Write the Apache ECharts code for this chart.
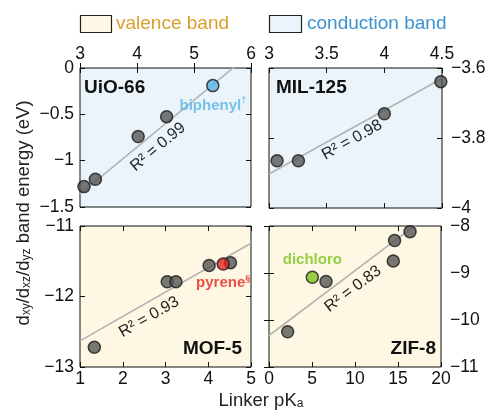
<!DOCTYPE html>
<html><head><meta charset="utf-8">
<script src="https://cdn.jsdelivr.net/npm/echarts@6/dist/echarts.min.js"></script>
<style>html,body{margin:0;padding:0;background:#fff}#c{width:490px;height:411px}</style>
</head><body><div id="c"></div>
<script>
// ---- data ----
const panelNames = ['UiO-66', 'MIL-125', 'MOF-5', 'ZIF-8'];
const r2Labels = ['R² = 0.99', 'R² = 0.98', 'R² = 0.93', 'R² = 0.83'];
// UiO-66 (conduction band)
const uioPKa = [3.07, 3.27, 4.02, 4.52];
const uioE = [-1.28, -1.20, -0.74, -0.525];
const uioSpecial = [[5.33, -0.19]]; // biphenyl
const uioFit = [[3.0, -1.36], [6.0, 0.16]];
// MIL-125 (conduction band)
const milPKa = [3.07, 3.255, 4.0, 4.49];
const milE = [-3.865, -3.865, -3.731, -3.639];
const milFit = [[3.0, -3.903], [4.5, -3.630]];
// MOF-5 (valence band)
const mofPKa = [1.335, 3.04, 3.245, 4.02, 4.52];
const mofE = [-12.72, -11.79, -11.79, -11.56, -11.52];
const mofSpecial = [[4.35, -11.54]]; // pyrene
const mofFit = [[1.0, -12.63], [5.0, -11.245]];
// ZIF-8 (valence band)
const zifPKa = [2.17, 6.63, 14.45, 14.6, 16.4];
const zifE = [-10.25, -9.18, -8.745, -8.31, -8.12];
const zifSpecial = [[5.04, -9.09]]; // dichloro
const zifFit = [[0.0, -10.33], [20.0, -7.57]];
// axis ranges / ticks
const xRanges = [[3, 6, 1], [3, 4.5, 0.5], [1, 5, 1], [0, 20, 5]];
const yRanges = [[-1.5, 0, 0.5], [-4, -3.6, 0.2], [-13, -11, 1], [-11, -8, 1]];

const FONT = 'Arial, "Liberation Sans", sans-serif';
const zip = (a, b) => a.map((v, i) => [v, b[i]]);
const fmt = v => String(Math.round(v * 1000) / 1000).replace('-', '\u2212');

const grids = [
  {left: 80, top: 68, width: 171, height: 139, bg: '#EAF4FA'},
  {left: 269, top: 68, width: 173, height: 140, bg: '#EAF4FA'},
  {left: 80, top: 226, width: 171, height: 141, bg: '#FEF7E3'},
  {left: 269, top: 226, width: 172, height: 141, bg: '#FEF7E3'}
];
const xPos = ['top', 'top', 'bottom', 'bottom'];
const yPos = ['left', 'right', 'left', 'right'];
const opp = {top: 'bottom', bottom: 'top', left: 'right', right: 'left'};
const TICKFS = 17.5;

const xAxis = [], yAxis = [];
grids.forEach((g, i) => {
  const [x0, x1, xi] = xRanges[i], [y0, y1, yi] = yRanges[i];
  const tick = {show: true, inside: true, length: 5, lineStyle: {color: '#111', width: 1}};
  const base = {type: 'value', gridIndex: i, splitLine: {show: false}, axisLine: {show: false}, axisTick: tick};
  xAxis.push(Object.assign({}, base, {min: x0, max: x1, interval: xi, position: xPos[i],
    axisLabel: {show: true, color: '#111', fontSize: TICKFS, fontFamily: FONT, margin: xPos[i] === 'top' ? 5 : 3, formatter: fmt, showMinLabel: true, showMaxLabel: true}}));
  xAxis.push(Object.assign({}, base, {min: x0, max: x1, interval: xi, position: opp[xPos[i]], axisLabel: {show: false}}));
  yAxis.push(Object.assign({}, base, {min: y0, max: y1, interval: yi, position: yPos[i],
    axisLabel: {show: true, color: '#111', fontSize: TICKFS, fontFamily: FONT, margin: yPos[i] === 'left' ? 6 : 9, formatter: fmt, showMinLabel: true, showMaxLabel: true}}));
  yAxis.push(Object.assign({}, base, {min: y0, max: y1, interval: yi, position: opp[yPos[i]], axisLabel: {show: false}}));
});

const ptStyle = {color: '#555555', borderColor: '#1a1a1a', borderWidth: 1.5};
function fitSeries(i, data) {
  return {type: 'line', xAxisIndex: 2 * i, yAxisIndex: 2 * i, data: data, symbol: 'none', silent: true,
    lineStyle: {color: '#b3b3b3', width: 1.6}, clip: true, z: 2};
}
function ptSeries(i, data) {
  return {type: 'scatter', xAxisIndex: 2 * i, yAxisIndex: 2 * i, data: data, symbolSize: 12, itemStyle: ptStyle, z: 4};
}
function specialSeries(i, data, color, text, sup, pos, dist) {
  return {type: 'scatter', xAxisIndex: 2 * i, yAxisIndex: 2 * i, data: data, symbolSize: 12,
    itemStyle: {color: color, borderColor: '#1a1a1a', borderWidth: 1.5}, z: 5,
    label: {show: true, position: pos, distance: dist, formatter: '{m|' + text + '}' + (sup ? '{s|' + sup + '}' : ''),
      rich: {m: {color: color, fontWeight: 'bold', fontSize: 15, fontFamily: FONT, lineHeight: 18, verticalAlign: 'bottom'},
             s: {color: color, fontWeight: 'bold', fontSize: 9, fontFamily: FONT, lineHeight: 18, verticalAlign: 'bottom', padding: [0, 0, 8, 0]}}}};
}

const series = [
  fitSeries(0, uioFit), ptSeries(0, zip(uioPKa, uioE)), specialSeries(0, uioSpecial, '#5AB4E6', 'biphenyl', '\u2020', 'bottom', 3),
  fitSeries(1, milFit), ptSeries(1, zip(milPKa, milE)),
  fitSeries(2, mofFit), ptSeries(2, zip(mofPKa, mofE)), specialSeries(2, mofSpecial, '#E3241B', 'pyrene', '\u00a7', 'bottom', 2),
  fitSeries(3, zifFit), ptSeries(3, zip(zifPKa, zifE)), specialSeries(3, zifSpecial, '#7CC31E', 'dichloro', '', 'top', 3)
];

const graphic = [];
grids.forEach(g => graphic.push({type: 'rect', z: -1, shape: {x: g.left, y: g.top, width: g.width, height: g.height},
  style: {fill: g.bg, stroke: '#111', lineWidth: 1}}));
// legend
graphic.push({type: 'rect', shape: {x: 80.5, y: 15.5, width: 31, height: 17}, style: {fill: '#FEF7E3', stroke: '#222', lineWidth: 1.2}});
graphic.push({type: 'text', x: 116, y: 24, style: {text: 'valence band', fill: '#D99E2B', fontSize: 19, fontFamily: FONT, verticalAlign: 'middle'}});
graphic.push({type: 'rect', shape: {x: 269.5, y: 15.5, width: 32, height: 17}, style: {fill: '#EAF4FA', stroke: '#222', lineWidth: 1.2}});
graphic.push({type: 'text', x: 307, y: 24, style: {text: 'conduction band', fill: '#3D93D0', fontSize: 19, fontFamily: FONT, verticalAlign: 'middle'}});
// panel names
const bold = {fontWeight: 'bold', fontSize: 19};
graphic.push({type: 'text', x: 84, y: 88, style: Object.assign({text: panelNames[0], fill: '#111', fontFamily: FONT, verticalAlign: 'middle'}, bold)});
graphic.push({type: 'text', x: 276, y: 88, style: Object.assign({text: panelNames[1], fill: '#111', fontFamily: FONT, verticalAlign: 'middle'}, bold)});
graphic.push({type: 'text', x: 242, y: 349, style: Object.assign({text: panelNames[2], fill: '#111', fontFamily: FONT, verticalAlign: 'middle', align: 'right'}, bold)});
graphic.push({type: 'text', x: 436, y: 349, style: Object.assign({text: panelNames[3], fill: '#111', fontFamily: FONT, verticalAlign: 'middle', align: 'right'}, bold)});
// R² labels
const r2Pos = [[158, 147, 40], [352, 140, 29], [149, 317, 30], [353, 289, 37]];
r2Pos.forEach((p, i) => graphic.push({type: 'text', x: p[0], y: p[1], rotation: p[2] * Math.PI / 180,
  style: {text: r2Labels[i], fill: '#222', fontSize: 16, fontFamily: FONT, align: 'center', verticalAlign: 'middle'}}));
// axis names
const richAx = {n: {fontSize: 18.5, fill: '#222', fontFamily: FONT, lineHeight: 22, verticalAlign: 'bottom'},
                s: {fontSize: 12, fill: '#222', fontFamily: FONT, lineHeight: 22, verticalAlign: 'bottom', padding: [7, 0, 0, 0]}};
graphic.push({type: 'text', x: 22, y: 213, rotation: Math.PI / 2,
  style: {text: '{n|d}{s|xy}{n|/d}{s|xz}{n|/d}{s|yz}{n| band energy (eV)}', align: 'center', verticalAlign: 'middle', fontFamily: FONT, rich: richAx}});
graphic.push({type: 'text', x: 261, y: 399,
  style: {text: '{n|Linker pK}{s|a}', align: 'center', verticalAlign: 'middle', fontFamily: FONT, rich: richAx}});

const chart = echarts.init(document.getElementById('c'), null, {renderer: 'canvas'});
chart.setOption({
  animation: false,
  grid: grids.map(g => ({left: g.left, top: g.top, width: g.width, height: g.height, show: false, containLabel: false})),
  xAxis: xAxis, yAxis: yAxis, series: series, graphic: graphic
});
</script></body></html>
